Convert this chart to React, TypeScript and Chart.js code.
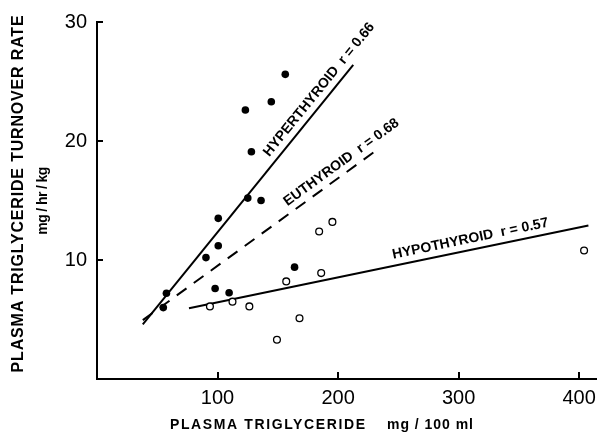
import React, { useEffect, useRef } from "react";
import { Chart, registerables } from "chart.js";
Chart.register(...registerables);

// Filled circles (hyperthyroid)
const hyperX = [156.2, 123.1, 144.6, 128.1, 125.1, 136.1, 100.6, 100.6, 90.4, 57.6, 55.0, 98.0, 109.6, 163.9];
const hyperY = [25.6, 22.6, 23.3, 19.1, 15.2, 15.0, 13.5, 11.2, 10.2, 7.2, 6.0, 7.6, 7.25, 9.4];
// Open circles (hypothyroid)
const hypoX = [93.7, 112.4, 126.4, 157.0, 186.0, 184.3, 195.3, 168.0, 149.3, 404.1];
const hypoY = [6.1, 6.5, 6.1, 8.2, 8.9, 12.4, 13.2, 5.1, 3.3, 10.8];

// Regression lines (endpoints)
const hyperLineX = [38, 212.6];
const hyperLineY = [4.6, 26.4];
const euLineX = [38, 235];
const euLineY = [4.95, 19.45];
const hypoLineX = [76.3, 407.7];
const hypoLineY = [5.94, 12.9];

const lineNames = ["HYPERTHYROID", "EUTHYROID", "HYPOTHYROID"];
const lineR = ["0.66", "0.68", "0.57"];
const labelAnchorX = [147.5, 161.5, 247];

const xTicks = [100, 200, 300, 400];
const yTicks = [10, 20, 30];

const yTitle = "PLASMA TRIGLYCERIDE TURNOVER RATE";
const yUnit = "mg / hr / kg";
const xTitle = "PLASMA TRIGLYCERIDE";
const xUnit = "mg / 100 ml";

const pts = (xs: number[], ys: number[]) => xs.map((x, i) => ({ x, y: ys[i] }));

function spacedText(ctx: CanvasRenderingContext2D, text: string, x: number, y: number, target: number) {
  (ctx as any).letterSpacing = "0px";
  const w = ctx.measureText(text).width;
  const sp = (target - w) / Math.max(1, text.length - 1);
  (ctx as any).letterSpacing = sp + "px";
  ctx.fillText(text, x, y);
  (ctx as any).letterSpacing = "0px";
}

const textPlugin = {
  id: "textPlugin",
  afterDraw(chart: any) {
    const ctx: CanvasRenderingContext2D = chart.ctx;
    const xs = chart.scales.x;
    const ys = chart.scales.y;
    const area = chart.chartArea;
    ctx.save();
    // inward tick marks
    ctx.strokeStyle = "#000";
    ctx.lineWidth = 2;
    ctx.setLineDash([]);
    ctx.beginPath();
    xTicks.forEach((v) => {
      const px = Math.round(xs.getPixelForValue(v));
      ctx.moveTo(px, area.bottom);
      ctx.lineTo(px, area.bottom - 7);
    });
    yTicks.forEach((v) => {
      const py = Math.round(ys.getPixelForValue(v));
      ctx.moveTo(area.left, py);
      ctx.lineTo(area.left + 6, py);
    });
    ctx.stroke();

    ctx.fillStyle = "#000";
    // line labels
    const lines = [
      [hyperLineX, hyperLineY],
      [euLineX, euLineY],
      [hypoLineX, hypoLineY],
    ];
    ctx.font = "bold 14px 'Liberation Sans', Arial, sans-serif";
    ctx.textBaseline = "alphabetic";
    ctx.textAlign = "left";
    lines.forEach(([lx, ly], i) => {
      const x0 = xs.getPixelForValue(lx[0]);
      const y0 = ys.getPixelForValue(ly[0]);
      const x1 = xs.getPixelForValue(lx[1]);
      const y1 = ys.getPixelForValue(ly[1]);
      const ang = Math.atan2(y1 - y0, x1 - x0);
      const ax = labelAnchorX[i];
      const ay = ly[0] + ((ly[1] - ly[0]) * (ax - lx[0])) / (lx[1] - lx[0]);
      const px = xs.getPixelForValue(ax);
      const py = ys.getPixelForValue(ay);
      ctx.save();
      ctx.translate(px, py);
      ctx.rotate(ang);
      ctx.fillText(lineNames[i] + "  r = " + lineR[i], 0, -7);
      ctx.restore();
    });
    // y title
    ctx.textAlign = "center";
    ctx.textBaseline = "middle";
    ctx.save();
    ctx.translate(19, 193.5);
    ctx.rotate(-Math.PI / 2);
    ctx.font = "bold 16px 'Liberation Sans', Arial, sans-serif";
    spacedText(ctx, yTitle, 0, 0, 357);
    ctx.restore();
    ctx.save();
    ctx.translate(43, 201);
    ctx.rotate(-Math.PI / 2);
    ctx.font = "bold 14px 'Liberation Sans', Arial, sans-serif";
    spacedText(ctx, yUnit, 0, 0, 68);
    ctx.restore();
    // x title
    ctx.textAlign = "left";
    ctx.font = "bold 14px 'Liberation Sans', Arial, sans-serif";
    spacedText(ctx, xTitle, 170, 425, 195);
    spacedText(ctx, xUnit, 387, 425, 86);
    ctx.restore();
  },
};

export default function App() {
  const ref = useRef<HTMLCanvasElement>(null);
  useEffect(() => {
    if (!ref.current) return;
    const tickFont = { family: "'Liberation Sans', Arial, sans-serif", size: 20 };
    const chart = new Chart(ref.current, {
      type: "scatter",
      data: {
        datasets: [
          {
            data: pts(hyperX, hyperY),
            backgroundColor: "#000",
            borderColor: "#000",
            pointRadius: 3.8,
            pointBorderWidth: 0,
          },
          {
            data: pts(hypoX, hypoY),
            backgroundColor: "#fff",
            borderColor: "#000",
            pointRadius: 3.4,
            pointBorderWidth: 1.3,
          },
          {
            data: pts(hyperLineX, hyperLineY),
            showLine: true,
            borderColor: "#000",
            borderWidth: 2,
            pointRadius: 0,
          },
          {
            data: pts(euLineX, euLineY),
            showLine: true,
            borderColor: "#000",
            borderWidth: 2,
            borderDash: [12, 9],
            pointRadius: 0,
          },
          {
            data: pts(hypoLineX, hypoLineY),
            showLine: true,
            borderColor: "#000",
            borderWidth: 2,
            pointRadius: 0,
          },
        ] as any,
      },
      options: {
        animation: false,
        responsive: false,
        devicePixelRatio: 1,
        layout: { padding: { left: 0, right: 3, top: 19, bottom: 0 } },
        plugins: { legend: { display: false }, tooltip: { enabled: false } },
        scales: {
          x: {
            type: "linear",
            min: 0,
            max: 414,
            afterBuildTicks: (s: any) => {
              s.ticks = xTicks.map((v) => ({ value: v }));
            },
            afterFit: (s: any) => {
              s.height = 57;
            },
            grid: { drawOnChartArea: false, drawTicks: false, tickLength: 0 },
            border: { display: true, color: "#000", width: 2 },
            ticks: { color: "#000", font: tickFont, padding: 7, maxRotation: 0 },
          },
          y: {
            type: "linear",
            min: 0,
            max: 30,
            afterBuildTicks: (s: any) => {
              s.ticks = yTicks.map((v) => ({ value: v }));
            },
            afterFit: (s: any) => {
              s.width = 97;
            },
            grid: { drawOnChartArea: false, drawTicks: false, tickLength: 0 },
            border: { display: true, color: "#000", width: 2 },
            ticks: { color: "#000", font: tickFont, padding: 10 },
          },
        },
      } as any,
      plugins: [textPlugin],
    });
    return () => chart.destroy();
  }, []);
  return (
    <div style={{ position: "fixed", left: 0, top: 0, width: 603, height: 436, background: "#fff" }}>
      <canvas ref={ref} width={603} height={436} />
    </div>
  );
}
